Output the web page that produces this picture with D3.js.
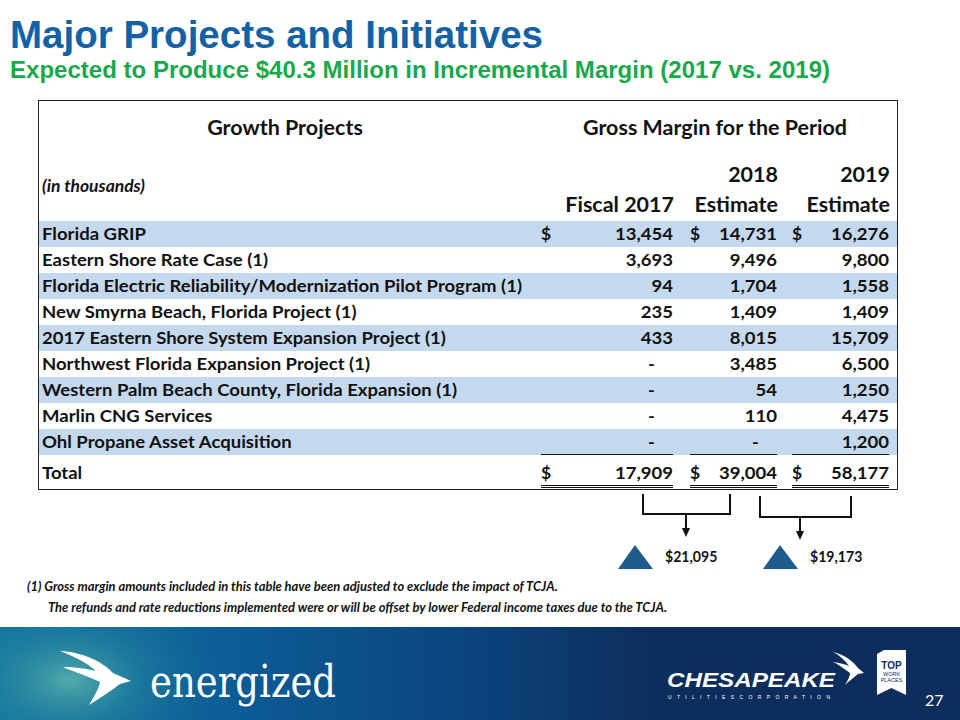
<!DOCTYPE html>
<html><head><meta charset="utf-8">
<script src="https://cdn.jsdelivr.net/npm/d3@7"></script>
<style>html,body{margin:0;padding:0;background:#fff;}svg{display:block;}</style>
</head><body>
<script>
// ---------- DATA ----------
const title = "Major Projects and Initiatives";
const subtitle = "Expected to Produce $40.3 Million in Incremental Margin (2017 vs. 2019)";
const projects = [
  "Florida GRIP",
  "Eastern Shore Rate Case (1)",
  "Florida Electric Reliability/Modernization Pilot Program (1)",
  "New Smyrna Beach, Florida Project (1)",
  "2017 Eastern Shore System Expansion Project (1)",
  "Northwest Florida Expansion Project (1)",
  "Western Palm Beach County, Florida Expansion (1)",
  "Marlin CNG Services",
  "Ohl Propane Asset Acquisition"
];
const fiscal2017 = [13454, 3693, 94, 235, 433, null, null, null, null];
const estimate2018 = [14731, 9496, 1704, 1409, 8015, 3485, 54, 110, null];
const estimate2019 = [16276, 9800, 1558, 1409, 15709, 6500, 1250, 4475, 1200];
const totals = [17909, 39004, 58177];
const columnTop = ["", "2018", "2019"];
const columnBottom = ["Fiscal 2017", "Estimate", "Estimate"];
const increments = [21095, 19173];
const footnotes = [
  "(1) Gross margin amounts included in this table have been adjusted to exclude the impact of TCJA.",
  "The refunds and rate reductions implemented were or will be offset by lower Federal income taxes due to the TCJA."
];

// ---------- SETUP ----------
const W = 960, H = 720;
const svg = d3.select("body").append("svg").attr("width", W).attr("height", H);
const FONT = "Lato, 'Open Sans', sans-serif";
const fmt = d3.format(",");

function measure(str, size, weight, style) {
  const t = svg.append("text").attr("font-family", FONT).attr("font-size", size)
    .attr("font-weight", weight || "bold").attr("font-style", style || "normal").text(str);
  const w = t.node().getComputedTextLength();
  t.remove();
  return w;
}
function squeeze(sel, k) {
  sel.each(function () {
    const w = this.getComputedTextLength();
    d3.select(this).attr("textLength", w * k).attr("lengthAdjust", "spacingAndGlyphs");
  });
}
// calibrations to emulate the narrower original face
const BODY = 17.5, HEAD = 20.5;
const kBody = 480 / measure(projects[2], BODY);
const kHead = 264 / measure("Gross Margin for the Period", HEAD);
const kNote = 619 / measure(footnotes[1], 13.5, "bold", "italic");

// ---------- TITLES ----------
svg.append("text").attr("x", 10).attr("y", 48).text(title)
  .attr("font-family", "'Liberation Sans', Arial, sans-serif").attr("font-weight", "bold")
  .attr("font-size", 39).attr("fill", "#1462a5")
  .attr("textLength", 533).attr("lengthAdjust", "spacingAndGlyphs");
svg.append("text").attr("x", 10).attr("y", 78).text(subtitle)
  .attr("font-family", "'Liberation Sans', Arial, sans-serif").attr("font-weight", "bold")
  .attr("font-size", 24).attr("fill", "#18a94b")
  .attr("textLength", 820).attr("lengthAdjust", "spacingAndGlyphs");

// ---------- TABLE ----------
const rows = projects.map((p, i) => ({ name: p, vals: [fiscal2017[i], estimate2018[i], estimate2019[i]], i }));
const y = d3.scaleBand().domain(d3.range(projects.length)).range([221, 221 + 26 * projects.length]);
const colRight = d3.scaleOrdinal().domain([0, 1, 2]).range([673, 777, 889]);
const colDollar = d3.scaleOrdinal().domain([0, 1, 2]).range([541, 690, 792]);

const table = svg.append("g");
table.selectAll("rect.band").data(rows.filter(r => r.i % 2 === 0)).join("rect")
  .attr("class", "band").attr("x", 39).attr("width", 858)
  .attr("y", d => y(d.i)).attr("height", y.bandwidth()).attr("fill", "#c5d9ee");

table.append("rect").attr("x", 38.5).attr("y", 100.5).attr("width", 859).attr("height", 389)
  .attr("fill", "none").attr("stroke", "#222").attr("stroke-width", 1);

// headers
const hdr = table.append("g").attr("font-family", FONT).attr("font-weight", "bold").attr("fill", "#111").attr("font-size", HEAD);
hdr.append("text").attr("x", 285).attr("y", 135).attr("text-anchor", "middle").text("Growth Projects").call(squeeze, kHead);
hdr.append("text").attr("x", 715).attr("y", 135).attr("text-anchor", "middle").text("Gross Margin for the Period").call(squeeze, kHead);
hdr.selectAll("text.top").data(columnTop).join("text").attr("class", "top")
  .attr("x", (d, i) => colRight(i) + 1).attr("y", 182).attr("text-anchor", "end").text(d => d).call(squeeze, kHead);
hdr.selectAll("text.bot").data(columnBottom).join("text").attr("class", "bot")
  .attr("x", (d, i) => colRight(i) + 1).attr("y", 212).attr("text-anchor", "end").text(d => d).call(squeeze, kHead);
hdr.append("text").attr("x", 42).attr("y", 192).attr("font-size", 16.5).attr("font-style", "italic")
  .text("(in thousands)").call(squeeze, kBody);

// row labels & values
const body = table.append("g").attr("font-family", FONT).attr("font-weight", "bold").attr("fill", "#111").attr("font-size", BODY);
const baseY = i => y(i) + y.bandwidth() / 2 + 6;
body.selectAll("text.lbl").data(rows).join("text").attr("class", "lbl")
  .attr("x", 42).attr("y", d => baseY(d.i)).text(d => d.name).call(squeeze, kBody);

const cells = rows.flatMap(r => r.vals.map((v, c) => ({ v, c, i: r.i })));
body.selectAll("text.val").data(cells).join("text").attr("class", "val")
  .attr("x", d => d.v == null ? colRight(d.c) - 18 : colRight(d.c))
  .attr("y", d => baseY(d.i))
  .attr("text-anchor", "end").text(d => d.v == null ? "-" : fmt(d.v)).call(squeeze, kBody);

body.selectAll("text.dol").data([0, 1, 2]).join("text").attr("class", "dol")
  .attr("x", c => colDollar(c)).attr("y", baseY(0)).text("$");

// total row
const totalY = y(projects.length - 1) + y.bandwidth() + 24;
body.append("text").attr("x", 42).attr("y", totalY).text("Total").call(squeeze, kBody);
body.selectAll("text.tdol").data([0, 1, 2]).join("text").attr("class", "tdol")
  .attr("x", c => colDollar(c)).attr("y", totalY).text("$");
body.selectAll("text.tot").data(totals).join("text").attr("class", "tot")
  .attr("x", (d, c) => colRight(c)).attr("y", totalY)
  .attr("text-anchor", "end").text(d => fmt(d)).call(squeeze, kBody);

// underlines
const ulY = y(projects.length - 1) + y.bandwidth() - 0.5;
const ul = table.append("g").attr("stroke", "#111").attr("stroke-width", 1);
[0, 1, 2].forEach(c => {
  const x1 = colDollar(c), x2 = colRight(c);
  ul.append("line").attr("x1", x1).attr("x2", x2).attr("y1", ulY).attr("y2", ulY);
  [totalY + 6.5, totalY + 8.5].forEach(yy =>
    ul.append("line").attr("x1", x1).attr("x2", x2).attr("y1", yy).attr("y2", yy));
});

// ---------- BRACKETS + ARROWS ----------
const br = svg.append("g").attr("stroke", "#111").attr("stroke-width", 2).attr("fill", "none");
const brackets = [
  { x1: 643, x2: 730, y0: 494, y1: 514, ax: 686 },
  { x1: 760, x2: 851, y0: 496, y1: 517, ax: 800 }
];
brackets.forEach(b => {
  br.append("path").attr("d", `M${b.x1},${b.y0}V${b.y1}H${b.x2}V${b.y0}`);
  br.append("line").attr("x1", b.ax).attr("x2", b.ax).attr("y1", b.y1).attr("y2", b.y1 + 15);
  svg.append("path").attr("d", `M${b.ax - 4},${b.y1 + 14}L${b.ax + 4},${b.y1 + 14}L${b.ax},${b.y1 + 23}Z`).attr("fill", "#111");
});

const incX = [618, 763];
increments.forEach((v, k) => {
  const x0 = incX[k];
  svg.append("path").attr("d", `M${x0},569L${x0 + 17},545L${x0 + 35},569Z`).attr("fill", "#1f5b8c");
  svg.append("text").attr("x", x0 + 47).attr("y", 562).attr("font-family", FONT).attr("font-weight", "bold")
    .attr("font-size", 16).attr("fill", "#111").text("$" + fmt(v)).call(squeeze, 0.88);
});

// ---------- FOOTNOTES ----------
[[27, 591], [48, 612]].forEach(([x, yy], k) => {
  svg.append("text").attr("x", x).attr("y", yy).attr("font-family", FONT).attr("font-weight", "bold")
    .attr("font-style", "italic").attr("font-size", 13.5).attr("fill", "#111").text(footnotes[k]).call(squeeze, kNote);
});

// ---------- FOOTER BAND ----------
const defs = svg.append("defs");
const lg = defs.append("linearGradient").attr("id", "fband").attr("x1", "0").attr("x2", "1").attr("y1", "0").attr("y2", "0");
[["0%", "#1277a0"], ["25%", "#0c5c96"], ["50%", "#0b437c"], ["68%", "#0d2d5c"], ["100%", "#0d2d5c"]]
  .forEach(([o, c]) => lg.append("stop").attr("offset", o).attr("stop-color", c));
const rg = defs.append("radialGradient").attr("id", "glow").attr("cx", "0.5").attr("cy", "0.5").attr("r", "0.5");
[["0%", "#56aeaa", 0.95], ["45%", "#2b8aa0", 0.45], ["100%", "#0c5e90", 0]]
  .forEach(([o, c, a]) => rg.append("stop").attr("offset", o).attr("stop-color", c).attr("stop-opacity", a));
defs.append("clipPath").attr("id", "fclip").append("rect").attr("x", 0).attr("y", 627).attr("width", W).attr("height", 93);
const foot = svg.append("g").attr("clip-path", "url(#fclip)");
foot.append("rect").attr("x", 0).attr("y", 627).attr("width", W).attr("height", 93).attr("fill", "url(#fband)");
foot.append("ellipse").attr("cx", 70).attr("cy", 680).attr("rx", 160).attr("ry", 100).attr("fill", "url(#glow)");

// left bird
svg.append("path").attr("fill", "#fff")
  .attr("d", "M60,651 C82,652 102,661 113,673 L131,681 L120,684 C111,691 100,698 89,705 C95,695 99,688 100,682 C90,677 75,672 63,667 C75,667 87,669 96,671 C86,662 73,656 60,651 Z");
svg.append("text").attr("x", 150).attr("y", 697).attr("font-family", "'DejaVu Serif', serif").attr("font-size", 44)
  .attr("fill", "#fff").text("energized").attr("textLength", 186).attr("lengthAdjust", "spacingAndGlyphs");

// Chesapeake logo
svg.append("text").attr("x", 667).attr("y", 687).attr("font-family", "'Liberation Sans', Arial, sans-serif")
  .attr("font-weight", "bold").attr("font-style", "italic").attr("font-size", 21).attr("fill", "#fff")
  .text("CHESAPEAKE").attr("textLength", 168).attr("lengthAdjust", "spacingAndGlyphs");
svg.append("text").attr("x", 668).attr("y", 699).attr("font-family", "'Liberation Sans', Arial, sans-serif")
  .attr("font-size", 5).attr("fill", "#fff")
  .text("U T I L I T I E S   C O R P O R A T I O N").attr("textLength", 162).attr("lengthAdjust", "spacing");
svg.append("path").attr("fill", "#fff")
  .attr("d", "M833,652 C845,655 853,661 858,668 L864,673 L858,674 C853,678 848,682 845,685 C848,680 850,676 850,673 C843,668 838,664 833,662 C840,663 845,664 849,666 C845,660 839,655 833,652 Z");

// Top Work Places badge
svg.append("path").attr("fill", "#fff").attr("d", "M877,654 L884,650 L906,650 L906,695 L891.5,688 L877,695 Z");
const badge = svg.append("g").attr("font-family", "'Liberation Sans', Arial, sans-serif").attr("fill", "#0d2d5c").attr("text-anchor", "middle");
badge.append("text").attr("x", 891.5).attr("y", 669).attr("font-size", 10).attr("font-weight", "bold").text("TOP");
badge.append("text").attr("x", 891.5).attr("y", 676).attr("font-size", 5.5).text("WORK");
badge.append("text").attr("x", 891.5).attr("y", 682).attr("font-size", 5.5).text("PLACES");

svg.append("text").attr("x", 925).attr("y", 706).attr("font-family", FONT).attr("font-size", 16).attr("fill", "#fff").text("27");
</script>
</body></html>
